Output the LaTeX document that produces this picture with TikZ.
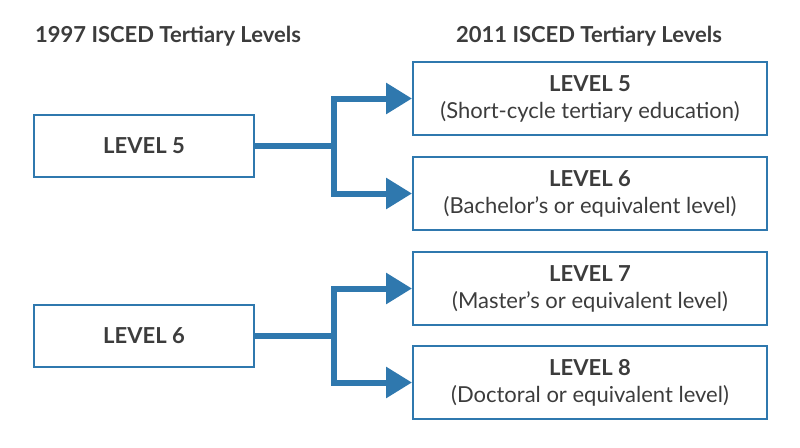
\documentclass[tikz,border=0pt]{standalone}
\usepackage{fontspec}
\setmainfont{Lato}
\usetikzlibrary{arrows.meta}
\definecolor{bl}{HTML}{2F78AE}
\definecolor{tx}{HTML}{3C3C3C}
\begin{document}
\begin{tikzpicture}[x=1pt,y=-1pt,
 box/.style={draw=bl,line width=2pt,text=tx,align=center,inner sep=0pt},
 hd/.style={text=tx,font=\fontsize{22}{24}\selectfont\bfseries},
 arr/.style={draw=bl,line width=6pt,-{Triangle[length=26pt,width=30pt]}},
 ln/.style={draw=bl,line width=6pt}]
\useasboundingbox (0,0) rectangle (800,447);
\node[hd] (h1) at (168,36) {1997 ISCED Tertiary Levels};
\node[hd] (h2) at (589,36) {2011 ISCED Tertiary Levels};
\tikzset{lb/.style={box,minimum width=220pt,minimum height=62pt,font=\fontsize{22}{24}\selectfont\bfseries},
 rb/.style={box,minimum width=354pt,minimum height=73pt,font=\fontsize{22}{27}\selectfont}}
\node[lb] (a) at (144,146) {LEVEL 5};
\node[lb] (b) at (144,336) {LEVEL 6};
\node[rb] (r1) at (590,98.5) {\textbf{LEVEL 5}\\(Short-cycle tertiary education)};
\node[rb] (r2) at (590,193.5) {\textbf{LEVEL 6}\\(Bachelor’s or equivalent level)};
\node[rb] (r3) at (590,288.5) {\textbf{LEVEL 7}\\(Master’s or equivalent level)};
\node[rb] (r4) at (590,382.5) {\textbf{LEVEL 8}\\(Doctoral or equivalent level)};
\coordinate (j1) at (334,146);
\coordinate (j2) at (334,336);
\draw[ln] (a.east) -- (j1);
\draw[arr] (334,146) |- (r1.west);
\draw[arr] (334,146) |- (r2.west);
\draw[ln] (b.east) -- (j2);
\draw[arr] (334,336) |- (r3.west);
\draw[arr] (334,336) |- (r4.west);
\end{tikzpicture}
\end{document}
